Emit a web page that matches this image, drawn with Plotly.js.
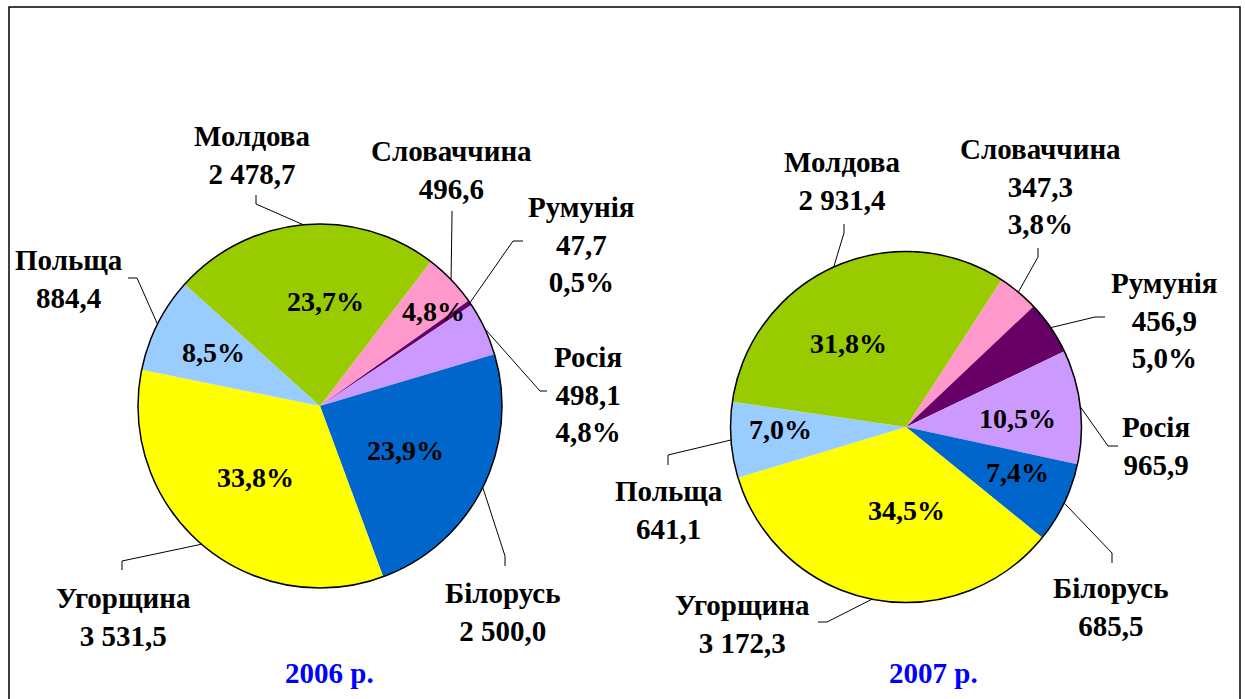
<!DOCTYPE html>
<html><head><meta charset="utf-8">
<script src="https://cdn.plot.ly/plotly-3.0.1.min.js"></script>
<style>html,body{margin:0;padding:0;background:#fff;} #chart{width:1245px;height:699px;}</style>
</head><body><div id="chart"></div>
<script>
// ---- data ----
const countries = ['Словаччина','Румунія','Росія','Білорусь','Угорщина','Польща','Молдова'];
const sliceColors = ['#FF99CC','#660066','#CC99FF','#0066CC','#FFFF00','#99CCFF','#99CC00'];
const values2006 = [496.6, 47.7, 498.1, 2500.0, 3531.5, 884.4, 2478.7];
const values2007 = [347.3, 456.9, 965.9, 685.5, 3172.3, 641.1, 2931.4];
const valueLabels2006 = ['496,6','47,7','498,1','2 500,0','3 531,5','884,4','2 478,7'];
const valueLabels2007 = ['347,3','456,9','965,9','685,5','3 172,3','641,1','2 931,4'];
const pctLabels2006 = ['4,8%','0,5%','4,8%','23,9%','33,8%','8,5%','23,7%'];
const pctLabels2007 = ['3,8%','5,0%','10,5%','7,4%','34,5%','7,0%','31,8%'];
const yearLabels = ['2006 р.','2007 р.'];

// ---- layout config (pixels) ----
const W = 1245, H = 699;
const FONT = 'Liberation Serif';
const charts = [
  { values: values2006, vlabels: valueLabels2006, pct: pctLabels2006, year: yearLabels[0],
    cx: 320, cy: 406, r: 182, rotation: 37.5, yearPos: [329, 673],
    pctOutside: [false, true, true, false, false, false, false],
    insidePos: [[433,311],null,null,[405,450],[255,477],[213,353],[325,301]],
    labelPos: [[451,169.5],[581,244.7],[588,394],[503,611.5],[123,617],[69,279],[252,154.5]],
    leadStart: [[452,211],[523,241],[547,391],[505,566],[122,570],[128,278],[256,195]],
    leadElbow: [[452,215],[513,241],[540,391],[505,556],[122,561],[137,278],[256,204]] },
  { values: values2007, vlabels: valueLabels2007, pct: pctLabels2007, year: yearLabels[1],
    cx: 906, cy: 427, r: 175.5, rotation: 33, yearPos: [933, 673],
    pctOutside: [true, true, false, false, false, false, false],
    insidePos: [null,null,[1017,418],[1017,472],[906,510],[780,429],[849,343]],
    labelPos: [[1040,186],[1164,320],[1156,446],[1111,607],[742,623.5],[669,510.5],[842,181]],
    leadStart: [[1038,248],[1105,317],[1118,446],[1112,563],[818,622],[668,465],[844,224]],
    leadElbow: [[1038,257],[1095,317],[1108,446],[1112,553],[827,622],[668,455],[844,233]] }
];

const px2x = p => p / W;
const px2y = p => 1 - p / H;

const traces = [];
const annotations = [];
const shapes = [];

charts.forEach(c => {
  const domain = { x: [px2x(c.cx - c.r), px2x(c.cx + c.r)], y: [px2y(c.cy + c.r), px2y(c.cy - c.r)] };
  traces.push({
    type: 'pie', values: c.values, labels: countries, sort: false, direction: 'clockwise',
    rotation: c.rotation, domain: domain,
    marker: { colors: sliceColors, line: { width: 0 } },
    textinfo: 'none', hoverinfo: 'label+value', showlegend: false
  });
  traces.push({
    type: 'pie', values: [1], labels: ['outline'], domain: domain, sort: false,
    marker: { colors: ['rgba(0,0,0,0)'], line: { color: '#000', width: 1.5 } },
    textinfo: 'none', hoverinfo: 'skip', showlegend: false
  });
  const total = c.values.reduce((a, b) => a + b, 0);
  let cum = 0;
  c.values.forEach((v, i) => {
    const mid = (c.rotation + (cum + v / 2) / total * 360) * Math.PI / 180;
    cum += v;
    const ex = c.cx + c.r * Math.sin(mid), ey = c.cy - c.r * Math.cos(mid);
    const s = c.leadStart[i], e = c.leadElbow[i];
    shapes.push({
      type: 'path', xref: 'paper', yref: 'paper',
      path: `M ${px2x(s[0])} ${px2y(s[1])} L ${px2x(e[0])} ${px2y(e[1])} L ${px2x(ex)} ${px2y(ey)}`,
      line: { color: '#000', width: 1 }
    });
    let txt = countries[i] + '<br>' + c.vlabels[i];
    if (c.pctOutside[i]) txt += '<br>' + c.pct[i];
    annotations.push({
      xref: 'paper', yref: 'paper', x: px2x(c.labelPos[i][0]), y: px2y(c.labelPos[i][1]),
      xanchor: 'center', yanchor: 'middle', showarrow: false, align: 'center',
      text: txt, font: { family: FONT, size: 29, color: '#000', weight: 700 }
    });
    if (c.insidePos[i]) {
      annotations.push({
        xref: 'paper', yref: 'paper', x: px2x(c.insidePos[i][0]), y: px2y(c.insidePos[i][1]),
        xanchor: 'center', yanchor: 'middle', showarrow: false,
        text: c.pct[i], font: { family: FONT, size: 28, color: '#000', weight: 700 }
      });
    }
  });
  annotations.push({
    xref: 'paper', yref: 'paper', x: px2x(c.yearPos[0]), y: px2y(c.yearPos[1]),
    xanchor: 'center', yanchor: 'middle', showarrow: false,
    text: c.year, font: { family: FONT, size: 29, color: '#0000FF', weight: 700 }
  });
});

shapes.push({
  type: 'rect', xref: 'paper', yref: 'paper',
  x0: px2x(9), x1: px2x(1240), y0: px2y(7), y1: px2y(710),
  line: { color: '#000', width: 1.5 }, fillcolor: 'rgba(0,0,0,0)'
});

const layout = {
  width: W, height: H, margin: { l: 0, r: 0, t: 0, b: 0 },
  paper_bgcolor: '#fff', showlegend: false,
  font: { family: FONT },
  annotations: annotations, shapes: shapes
};
Plotly.newPlot('chart', traces, layout, { displayModeBar: false, staticPlot: true });
</script>
</body></html>
